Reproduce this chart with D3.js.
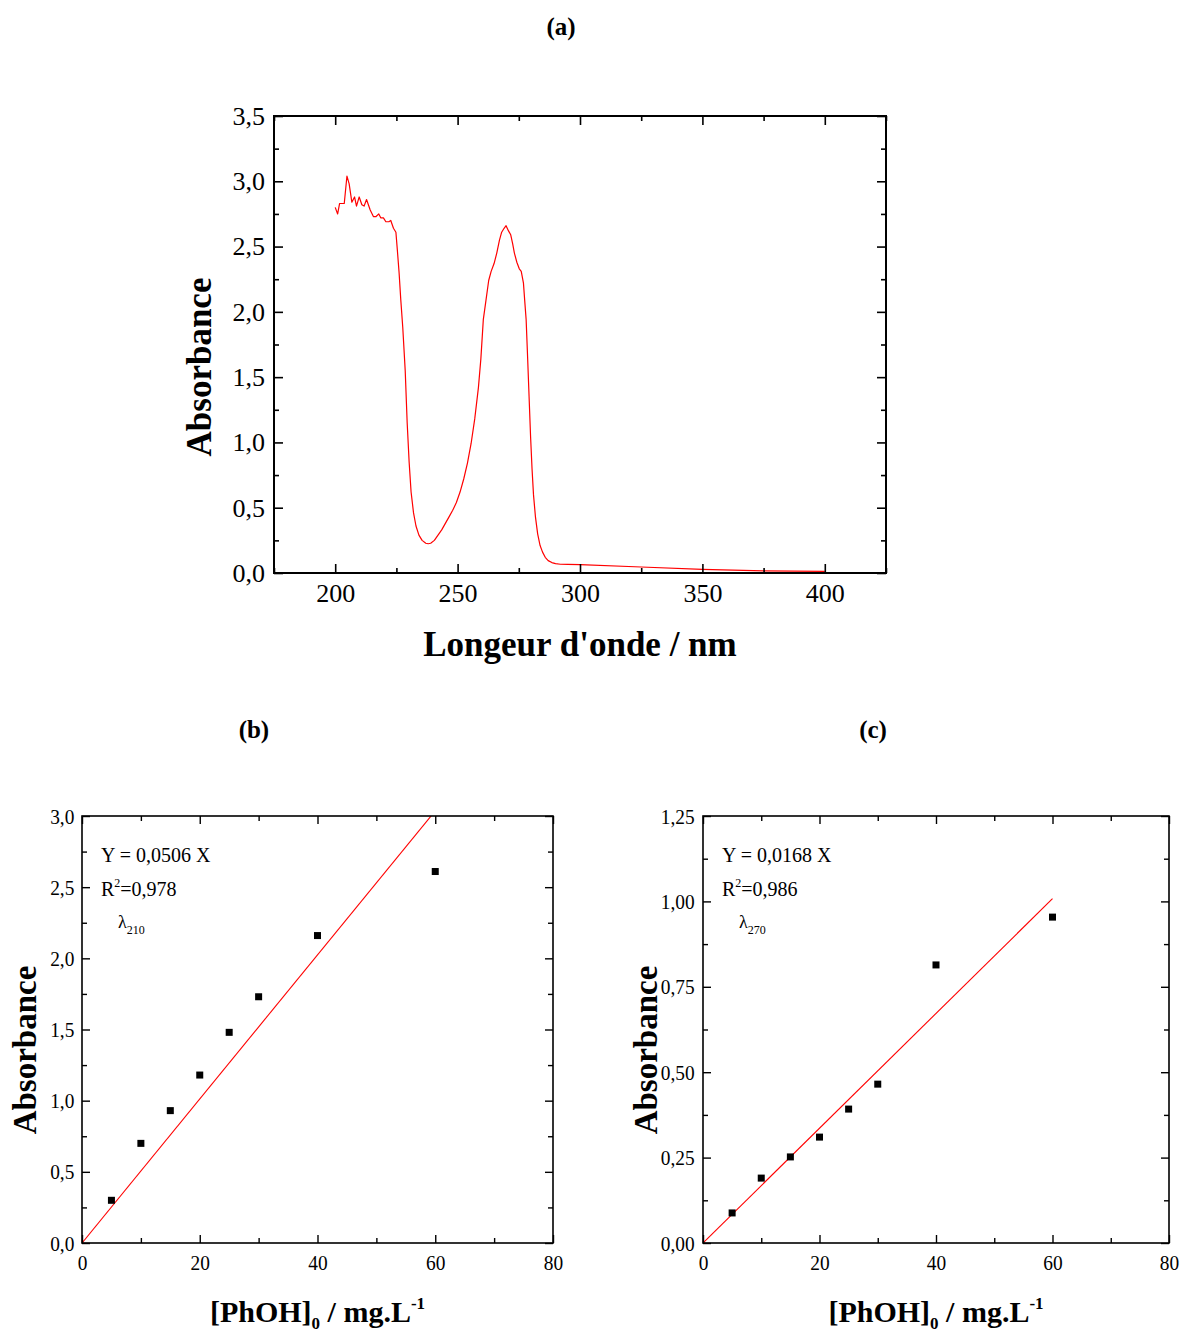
<!DOCTYPE html>
<html>
<head>
<meta charset="utf-8">
<script src="https://cdn.jsdelivr.net/npm/d3@7"></script>
<style>
  html, body { margin: 0; padding: 0; background: #fff; }
  svg { display: block; }
  svg text { font-family: "Liberation Serif", "Times New Roman", serif !important; fill: #000; }
</style>
</head>
<body>
<svg id="fig" width="1183" height="1338"></svg>
<script>
// UV-Vis spectrum of phenol (panel a)
const wavelength = [200, 201, 201.8, 203.7, 204.8, 205.7, 206.8, 207.9, 208.7, 209.8, 210.9, 211.8, 212.8, 214.3, 215.6, 216.7, 217.8, 218.6, 219.7, 220.7, 221.9, 222.7, 223.8, 224.8, 225.4, 226.1, 226.8, 227.6, 228.6, 229.4, 230.2, 231.0, 232.0, 233.0, 234.2, 235.5, 237.0, 238.0, 239.0, 240.5, 242.0, 243.5, 245.0, 246.5, 248.0, 249.5, 251.0, 252.5, 254.0, 255.5, 257.0, 258.5, 259.5, 260.5, 261.6, 262.7, 263.7, 264.9, 266.0, 267.1, 268.0, 269.0, 269.8, 270.8, 271.7, 272.5, 273.2, 274.2, 275.2, 276.0, 276.9, 277.4, 278.0, 278.6, 279.2, 279.8, 280.4, 281.0, 281.8, 282.7, 283.7, 284.7, 285.8, 287.0, 288.5, 290.0, 292.0, 295, 300, 325, 350, 375, 400];
const absorbance = [2.80, 2.75, 2.83, 2.83, 3.04, 2.98, 2.84, 2.88, 2.81, 2.88, 2.82, 2.81, 2.86, 2.78, 2.73, 2.73, 2.75, 2.72, 2.72, 2.69, 2.69, 2.70, 2.64, 2.61, 2.47, 2.30, 2.09, 1.88, 1.55, 1.15, 0.85, 0.62, 0.46, 0.36, 0.29, 0.25, 0.228, 0.224, 0.228, 0.25, 0.29, 0.33, 0.38, 0.43, 0.48, 0.54, 0.62, 0.72, 0.84, 0.99, 1.18, 1.42, 1.64, 1.94, 2.09, 2.24, 2.31, 2.37, 2.45, 2.55, 2.61, 2.64, 2.66, 2.62, 2.59, 2.52, 2.45, 2.38, 2.33, 2.31, 2.22, 2.09, 1.94, 1.65, 1.35, 1.05, 0.80, 0.60, 0.43, 0.30, 0.21, 0.16, 0.12, 0.095, 0.08, 0.072, 0.067, 0.066, 0.064, 0.046, 0.028, 0.016, 0.012];

// Calibration data (panels b and c)
const concentration = [5, 10, 15, 20, 25, 30, 40, 60];
const abs210 = [0.30, 0.70, 0.93, 1.18, 1.48, 1.73, 2.16, 2.61];
const abs270 = [0.088, 0.19, 0.252, 0.31, 0.392, 0.465, 0.814, 0.954];
const slope210 = 0.0506, r2_210 = "0,978";
const slope270 = 0.0168, r2_270 = "0,986";

// Axis ticks
const specXTicks = [200, 250, 300, 350, 400];
const specXMinor = [175, 225, 275, 325, 375, 425];
const specYTicks = [0, 0.5, 1, 1.5, 2, 2.5, 3, 3.5];
const specYMinor = [0.25, 0.75, 1.25, 1.75, 2.25, 2.75, 3.25];
const calXTicks = [0, 20, 40, 60, 80];
const calXMinor = [10, 30, 50, 70];
const bYTicks = [0, 0.5, 1, 1.5, 2, 2.5, 3];
const bYMinor = [0.25, 0.75, 1.25, 1.75, 2.25, 2.75];
const cYTicks = [0, 0.25, 0.5, 0.75, 1, 1.25];
const cYMinor = [0.125, 0.375, 0.625, 0.875, 1.125];

const svg = d3.select("#fig");
const comma = (d, digits) => d.toFixed(digits).replace(".", ",");

// Draws the framed box with inward major/minor ticks on all four sides
function frame(g, x, y, opt) {
  const w = x.range()[1] - x.range()[0];
  const h = y.range()[0] - y.range()[1];
  const M = opt.major, m = opt.minor;
  const styleAxis = sel => {
    sel.attr("font-family", null);
    sel.select(".domain").remove();
    sel.selectAll("line").attr("stroke", "#000").attr("stroke-width", opt.tickW);
  };
  // bottom
  g.append("g").attr("transform", `translate(0,${h})`)
    .call(d3.axisBottom(x).tickValues(opt.xTicks).tickSize(-M).tickPadding(opt.xPad).tickFormat(opt.xFmt))
    .call(styleAxis)
    .selectAll("text").attr("font-size", opt.tickFont);
  g.append("g").attr("transform", `translate(0,${h})`)
    .call(d3.axisBottom(x).tickValues(opt.xMinor).tickSize(-m).tickFormat(""))
    .call(styleAxis);
  // top
  g.append("g").call(d3.axisTop(x).tickValues(opt.xTicks).tickSize(-M).tickFormat("")).call(styleAxis);
  g.append("g").call(d3.axisTop(x).tickValues(opt.xMinor).tickSize(-m).tickFormat("")).call(styleAxis);
  // left
  g.append("g")
    .call(d3.axisLeft(y).tickValues(opt.yTicks).tickSize(-M).tickPadding(opt.yPad).tickFormat(opt.yFmt))
    .call(styleAxis)
    .selectAll("text").attr("font-size", opt.tickFont);
  g.append("g").call(d3.axisLeft(y).tickValues(opt.yMinor).tickSize(-m).tickFormat("")).call(styleAxis);
  // right
  g.append("g").attr("transform", `translate(${w},0)`)
    .call(d3.axisRight(y).tickValues(opt.yTicks).tickSize(-M).tickFormat("")).call(styleAxis);
  g.append("g").attr("transform", `translate(${w},0)`)
    .call(d3.axisRight(y).tickValues(opt.yMinor).tickSize(-m).tickFormat("")).call(styleAxis);
  // box
  g.append("rect").attr("x", 0).attr("y", 0).attr("width", w).attr("height", h)
    .attr("fill", "none").attr("stroke", "#000").attr("stroke-width", opt.boxW);
}

// ---------- Panel (a): spectrum ----------
{
  const L = 274, T = 116, W = 612, H = 457;
  const x = d3.scaleLinear().domain([175, 425]).range([0, W]);
  const y = d3.scaleLinear().domain([0, 3.5]).range([H, 0]);
  const g = svg.append("g").attr("transform", `translate(${L},${T})`);

  svg.append("text").attr("x", 561).attr("y", 35).attr("text-anchor", "middle")
    .attr("font-size", 25).attr("font-weight", "bold").text("(a)");

  const line = d3.line().x((d, i) => x(wavelength[i])).y(d => y(d));
  g.append("path").datum(absorbance).attr("d", line)
    .attr("fill", "none").attr("stroke", "#ff0000").attr("stroke-width", 1.2)
    .attr("stroke-linejoin", "round");

  frame(g, x, y, {
    xTicks: specXTicks, xMinor: specXMinor, yTicks: specYTicks, yMinor: specYMinor,
    xFmt: d => d, yFmt: d => comma(d, 1), major: 9, minor: 5, tickW: 1.6, boxW: 2,
    tickFont: 26, xPad: 11, yPad: 9
  });

  svg.append("text").attr("transform", `translate(211,367) rotate(-90)`)
    .attr("text-anchor", "middle").attr("font-size", 35).attr("font-weight", "bold")
    .text("Absorbance");
  svg.append("text").attr("x", 580).attr("y", 656).attr("text-anchor", "middle")
    .attr("font-size", 35).attr("font-weight", "bold").text("Longeur d'onde / nm");
}

// ---------- Panels (b) and (c): calibration lines ----------
function calPanel(opt) {
  const { L, W, yMax, yTicks, yMinor, yDigits, values, slope, r2, lambda, label } = opt;
  const T = 816, H = 427;
  const x = d3.scaleLinear().domain([0, 80]).range([0, W]);
  const y = d3.scaleLinear().domain([0, yMax]).range([H, 0]);
  const g = svg.append("g").attr("transform", `translate(${L},${T})`);
  const clipId = "clip-" + label;

  svg.append("text").attr("x", L + W * 0.365).attr("y", 738).attr("text-anchor", "middle")
    .attr("font-size", 25).attr("font-weight", "bold").text(`(${label})`);

  g.append("clipPath").attr("id", clipId)
    .append("rect").attr("width", W).attr("height", H);

  // fitted line through the origin
  g.append("line").attr("clip-path", `url(#${clipId})`)
    .attr("x1", x(0)).attr("y1", y(0)).attr("x2", x(60)).attr("y2", y(slope * 60))
    .attr("stroke", "#ff0000").attr("stroke-width", 1.1);

  // measured points
  const s = 7;
  g.selectAll("rect.pt").data(values).join("rect").attr("class", "pt")
    .attr("x", (d, i) => x(concentration[i]) - s / 2).attr("y", d => y(d) - s / 2)
    .attr("width", s).attr("height", s).attr("fill", "#000");

  frame(g, x, y, {
    xTicks: calXTicks, xMinor: calXMinor, yTicks, yMinor,
    xFmt: d => d, yFmt: d => comma(d, yDigits), major: 8, minor: 5, tickW: 1.4, boxW: 1.6,
    tickFont: 22, xPad: 11, yPad: 6
  });
  g.selectAll("text").filter(function () { return this.closest(".tick"); })
    .style("transform-box", "fill-box").style("transform-origin", "center")
    .style("transform", "scaleX(0.88)");

  // equation annotation
  const ann = g.append("g").attr("font-size", 20)
    .style("transform-box", "fill-box").style("transform-origin", "left center");
  ann.append("text").attr("x", 19).attr("y", 46).text(`Y = ${comma(slope, 4)} X`);
  const r = ann.append("text").attr("x", 19).attr("y", 80);
  r.append("tspan").text("R");
  r.append("tspan").attr("font-size", 12).attr("dy", -9).text("2");
  r.append("tspan").attr("dy", 9).text("=" + r2);
  const l = ann.append("text").attr("x", 36).attr("y", 112);
  l.append("tspan").attr("font-size", 18).text("λ");
  l.append("tspan").attr("font-size", 12).attr("dy", 6).text(lambda);

  // axis titles
  svg.append("text").attr("transform", `translate(${L - 46},1050) rotate(-90)`)
    .attr("text-anchor", "middle").attr("font-size", 33).attr("font-weight", "bold")
    .text("Absorbance");
  const xl = svg.append("text").attr("x", L + W * 0.5).attr("y", 1322)
    .attr("text-anchor", "middle").attr("font-size", 30).attr("font-weight", "bold");
  xl.append("tspan").text("[PhOH]");
  xl.append("tspan").attr("font-size", 17).attr("dy", 7).text("0");
  xl.append("tspan").attr("dy", -7).text(" / mg.L");
  xl.append("tspan").attr("font-size", 17).attr("dy", -13).text("-1");
}

calPanel({ L: 82, W: 471, yMax: 3.0, yTicks: bYTicks, yMinor: bYMinor, yDigits: 1,
  values: abs210, slope: slope210, r2: r2_210, lambda: "210", label: "b" });
calPanel({ L: 703, W: 466, yMax: 1.25, yTicks: cYTicks, yMinor: cYMinor, yDigits: 2,
  values: abs270, slope: slope270, r2: r2_270, lambda: "270", label: "c" });
</script>
</body>
</html>
